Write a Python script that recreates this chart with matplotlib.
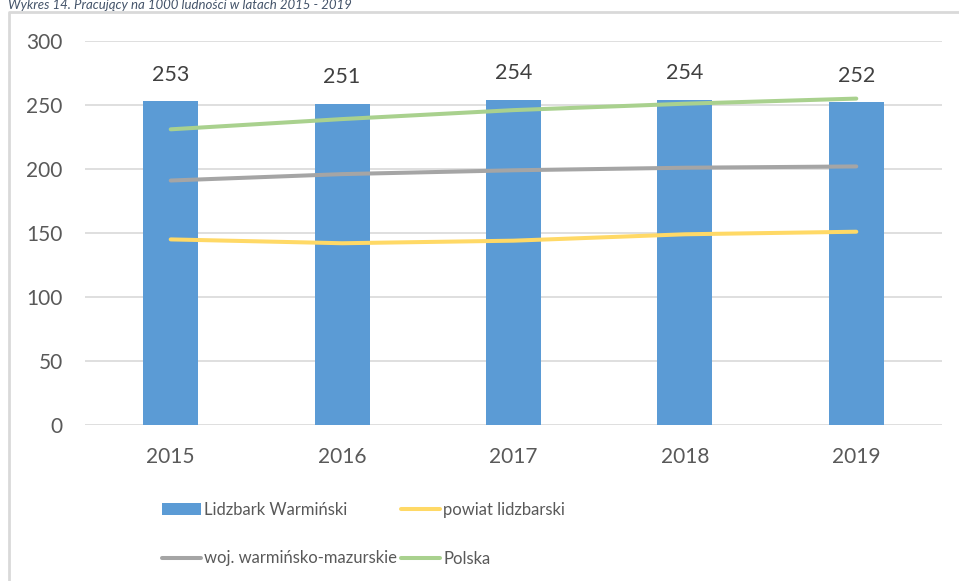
import matplotlib.pyplot as plt
from matplotlib.lines import Line2D
import numpy as np

plt.rcParams['font.family'] = ['Lato', 'DejaVu Sans']

years = ['2015', '2016', '2017', '2018', '2019']
lidzbark = [253, 251, 254, 254, 252]
powiat = [145, 142, 144, 149, 151]
wojewodztwo = [191, 196, 199, 201, 202]
polska = [231, 239, 246, 251, 255]

title = 'Wykres 14. Pracujący na 1000 ludności w latach 2015 - 2019'
txt_col = '#595959'

W, H = 959, 581
fig = plt.figure(figsize=(W / 100, H / 100), dpi=100)
ax = fig.add_axes([85 / W, 1 - 425 / H, (942 - 85) / W, (425 - 41) / H])

x = np.arange(len(years))
b = ax.bar(x, lidzbark, width=0.32, color='#5b9bd5', zorder=2)
lw = 2.9
l1, = ax.plot(x, powiat, color='#ffd966', lw=lw, solid_capstyle='round', zorder=3)
l2, = ax.plot(x, wojewodztwo, color='#a5a5a5', lw=lw, solid_capstyle='round', zorder=3)
l3, = ax.plot(x, polska, color='#a9d18e', lw=lw, solid_capstyle='round', zorder=3)

for xi, v in zip(x, lidzbark):
    ax.annotate(str(v), (xi, v), xytext=(0, 19), textcoords='offset points',
                ha='center', va='center', fontsize=15.5, color='#404040')

ax.set_xlim(-0.5, 4.5)
ax.set_ylim(0, 300)
ax.set_yticks(range(0, 301, 50))
ax.set_xticks(x)
ax.set_xticklabels(years)
ax.tick_params(length=0, labelsize=15, colors=txt_col)
ax.tick_params(axis='y', pad=16)
ax.tick_params(axis='x', pad=16)
ax.grid(axis='y', color='#d9d9d9', lw=1.2, zorder=0)
for s in ax.spines.values():
    s.set_visible(False)

# legend, column-major so rows read: bar | powiat, woj | Polska
fig.legend([b, l2, l1, l3],
           ['Lidzbark Warmiński', 'woj. warmińsko-mazurskie',
            'powiat lidzbarski', 'Polska'],
           ncol=2, loc='upper left', bbox_to_anchor=(162 / W, 1 - 502 / H),
           frameon=False, fontsize=12, labelcolor=txt_col,
           handlelength=2.35, handletextpad=0.2, columnspacing=0.2,
           labelspacing=1.95, borderaxespad=0, borderpad=0)

# frame of the chart box
fig.add_artist(Line2D([9 / W, 9 / W, 1], [0, 1 - 12 / H, 1 - 12 / H],
                      transform=fig.transFigure, color='#d9d9d9', lw=2))

# caption above the box
fig.text(8 / W, 1 - 5 / H, title, fontsize=9.5, style='italic',
         color='#44546a', ha='left', va='center')

fig.savefig('out.png', dpi=100)
